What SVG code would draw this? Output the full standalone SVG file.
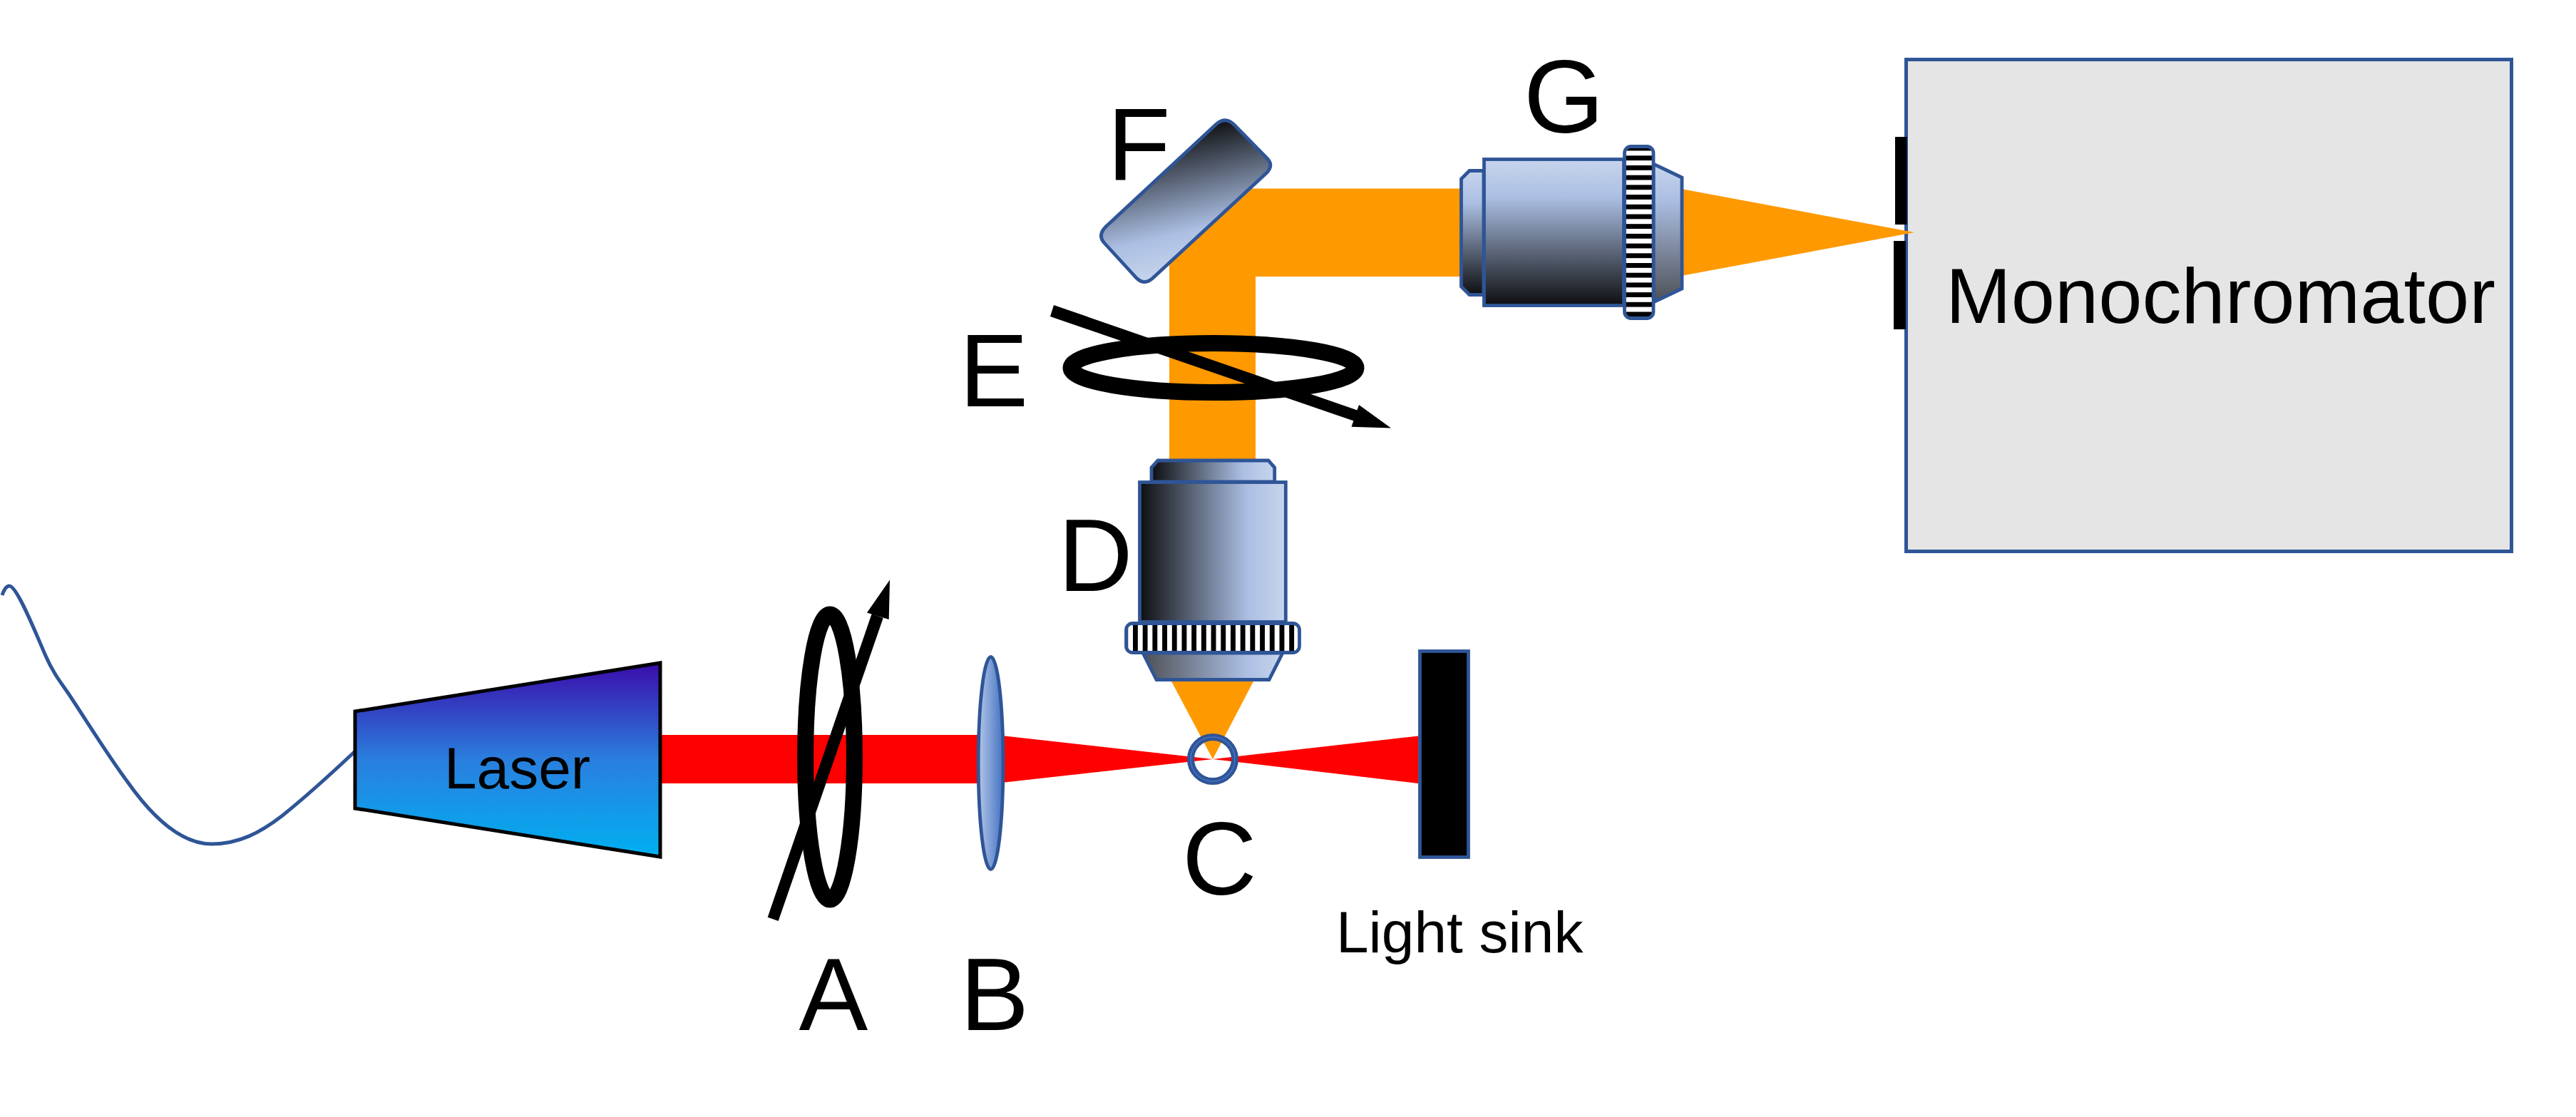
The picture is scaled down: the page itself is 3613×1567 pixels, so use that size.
<svg xmlns="http://www.w3.org/2000/svg" width="3613" height="1567" viewBox="0 0 3613 1567">
  <style>
    .label { font-family: "Liberation Sans", Arial, sans-serif; font-size: 145px; fill: #000; }
    .small { font-family: "Liberation Sans", Arial, sans-serif; font-size: 82px; fill: #000; }
    .edge { stroke: #2F5597; stroke-width: 4.8; stroke-linejoin: miter; }
    .ring { fill: none; stroke: #000; stroke-width: 23; }
    .red { fill: #FF0000; }
    .orange { fill: #FF9900; }
  </style>
  <defs>
    <linearGradient id="laserFill" x1="0" y1="0" x2="0" y2="1">
      <stop offset="0" stop-color="#3A0CAB"/>
      <stop offset="0.5" stop-color="#2A7FDE"/>
      <stop offset="1" stop-color="#00B0F0"/>
    </linearGradient>
    <linearGradient id="lensFill" x1="0" y1="0" x2="1" y2="0">
      <stop offset="0" stop-color="#B4C7E7"/>
      <stop offset="1" stop-color="#4472C4"/>
    </linearGradient>
    <linearGradient id="steelH" x1="0" y1="0" x2="1" y2="0">
      <stop offset="0" stop-color="#0D0E10"/>
      <stop offset="0.74" stop-color="#ABBFE3"/>
      <stop offset="1" stop-color="#C7D5EC"/>
    </linearGradient>
    <linearGradient id="coneH" x1="0" y1="0" x2="1" y2="0">
      <stop offset="0" stop-color="#4D4F55"/>
      <stop offset="0.74" stop-color="#ABBFE3"/>
      <stop offset="1" stop-color="#C7D5EC"/>
    </linearGradient>
    <linearGradient id="steelV" x1="0" y1="0" x2="0" y2="1">
      <stop offset="0" stop-color="#C7D5EC"/>
      <stop offset="0.26" stop-color="#ABBFE3"/>
      <stop offset="1" stop-color="#0D0E10"/>
    </linearGradient>
    <linearGradient id="coneV" x1="0" y1="0" x2="0" y2="1">
      <stop offset="0" stop-color="#C7D5EC"/>
      <stop offset="0.26" stop-color="#ABBFE3"/>
      <stop offset="1" stop-color="#4D4F55"/>
    </linearGradient>
    <linearGradient id="mirrorFill" gradientUnits="userSpaceOnUse" x1="1660" y1="165" x2="1715" y2="398">
      <stop offset="0.057" stop-color="#0D0E10"/>
      <stop offset="0.652" stop-color="#ABBFE3"/>
      <stop offset="0.894" stop-color="#C7D5EC"/>
    </linearGradient>
    <pattern id="knurlV" patternUnits="userSpaceOnUse" x="1589" y="0" width="13.7" height="50">
      <rect width="13.7" height="50" fill="#fff"/>
      <rect width="6.9" height="50" fill="#000"/>
    </pattern>
    <pattern id="knurlH" patternUnits="userSpaceOnUse" x="0" y="218.3" width="50" height="13.7">
      <rect width="50" height="13.7" fill="#fff"/>
      <rect width="50" height="6.8" fill="#000"/>
    </pattern>
  </defs>

  <rect width="3613" height="1567" fill="#fff"/>

  <g id="monochromator">
    <rect x="2673.5" y="83.5" width="849" height="690" fill="#E5E5E5" stroke="#2F5597" stroke-width="5"/>
    <rect x="2658" y="192" width="16.5" height="123" fill="#000"/>
    <rect x="2656" y="338" width="16.8" height="124" fill="#000"/>
    <text class="small" x="2729" y="453" style="font-size:110px" textLength="771" lengthAdjust="spacingAndGlyphs">Monochromator</text>
  </g>

  <g id="connectors">
    <path id="wire" d="M3,835 C6,826 9,822 13,822 C24,822 50,888 64,920 C75,945 85,957 96,973 C122,1012 150,1058 179,1097 C215,1148 255,1184 297,1184 C335,1184 365,1168 395,1145 C430,1117 465,1085 499,1053" fill="none" stroke="#2F5597" stroke-width="5"/>
    <rect class="red" x="924" y="1031" width="460" height="68"/>
    <polygon class="red" points="1405,1032 1701,1065 1405,1098"/>
    <polygon class="red" points="1701,1065 1989,1032.5 1989,1099"/>
    <polygon class="orange" points="1642,954 1759,954 1701,1065"/>
    <polygon class="orange" points="1640,646 1640,355 1740,264.5 2050,264.5 2050,388 1761,388 1761,646"/>
    <polygon class="orange" points="2358,265 2685,326 2358,387"/>
  </g>

  <g id="laser">
    <polygon points="498,998 926,930 926,1202 498,1134" fill="url(#laserFill)" stroke="#000" stroke-width="5"/>
    <text class="small" x="623" y="1105.5">Laser</text>
  </g>

  <g id="element-a">
    <ellipse class="ring" cx="1164" cy="1062" rx="34.4" ry="200"/>
    <polygon points="1076.7,1286.7 1091.7,1292 1238.7,867 1222.7,861" fill="#000"/>
    <polygon points="1248,813.5 1216,859.5 1246.7,869" fill="#000"/>
    <text class="label" x="1120.5" y="1445">A</text>
  </g>

  <g id="element-b">
    <ellipse cx="1389.6" cy="1070.5" rx="17.4" ry="149" fill="url(#lensFill)" stroke="#2F5597" stroke-width="4.8"/>
    <text class="label" x="1346.5" y="1445">B</text>
  </g>

  <g id="element-c">
    <circle cx="1701" cy="1065" r="31" fill="none" stroke="#2F5597" stroke-width="10"/>
    <circle cx="1701" cy="1065" r="31" fill="none" stroke="#4472C4" stroke-width="1.5"/>
    <text class="label" x="1658" y="1255">C</text>
  </g>

  <g id="light-sink">
    <rect x="1991.5" y="913.5" width="68" height="289" fill="#000" stroke="#2F5597" stroke-width="4.8"/>
    <text class="small" x="1874" y="1336">Light sink</text>
  </g>

  <g id="element-d">
    <path class="edge" d="M1615,676 L1615,656 L1624,646 L1779,646 L1787.7,656 L1787.7,676 Z" fill="url(#steelH)"/>
    <rect class="edge" x="1598.5" y="676.5" width="204.8" height="196" fill="url(#steelH)"/>
    <path class="edge" d="M1603,916 L1622,953.5 L1780,953.5 L1799,916 Z" fill="url(#coneH)"/>
    <rect class="edge" x="1579.5" y="874.5" width="243" height="41" rx="9" fill="url(#knurlV)"/>
    <text class="label" x="1484" y="829">D</text>
  </g>

  <g id="element-e">
    <polygon points="1478,428 1473,444 1898.7,590.6 1904.5,575.7" fill="#000"/>
    <polygon points="1951,600.6 1906,568 1895.5,598.7" fill="#000"/>
    <ellipse class="ring" cx="1702" cy="516" rx="200" ry="34.5"/>
    <text class="label" x="1345.5" y="570">E</text>
  </g>

  <g id="element-f">
    <path class="edge" d="M1706,174 Q1719,163 1731,175 L1777,222 Q1787,232 1776,243 L1617,390 Q1605,401 1594,390 L1549,341 Q1539,330 1551,318 Z" fill="url(#mirrorFill)"/>
    <text class="label" x="1553" y="252">F</text>
  </g>

  <g id="element-g">
    <path class="edge" d="M2081,239.5 L2061,239.5 L2049.5,251 L2049.5,402 L2061,413.5 L2081,413.5 Z" fill="url(#steelV)"/>
    <rect class="edge" x="2081.5" y="223.5" width="196" height="205" fill="url(#steelV)"/>
    <path class="edge" d="M2319,230 L2359,249 L2359,405 L2319,424 Z" fill="url(#coneV)"/>
    <rect class="edge" x="2278.5" y="205.5" width="40.5" height="241" rx="9" fill="url(#knurlH)"/>
    <text class="label" x="2137" y="186">G</text>
  </g>
</svg>
